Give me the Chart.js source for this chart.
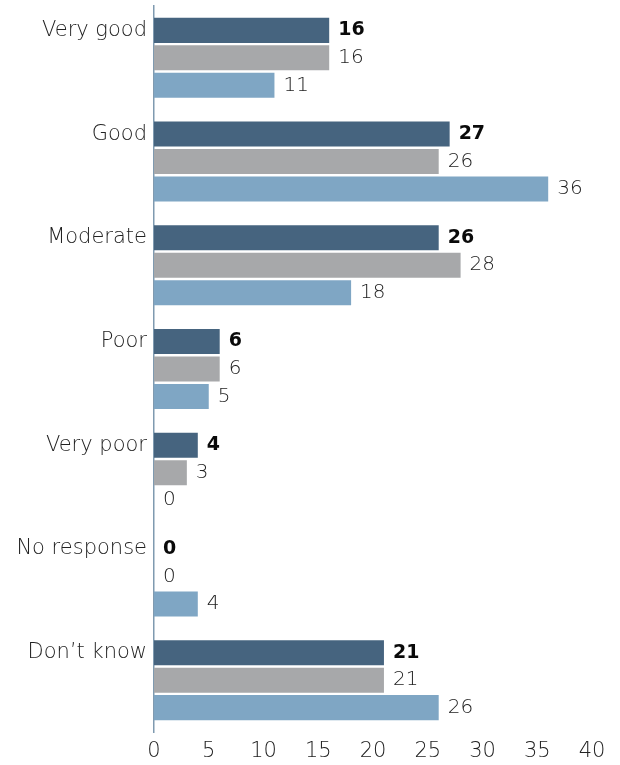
<!DOCTYPE html>
<html>
<head>
<meta charset="utf-8">
<script src="https://cdn.jsdelivr.net/npm/chart.js@4"></script>
<style>
html,body{margin:0;padding:0;background:#fff;}
#wrap{width:620px;height:765px;position:relative;}
</style>
</head>
<body>
<div id="wrap"><canvas id="c" width="620" height="765"></canvas></div>
<script>
const categories = ["Very good","Good","Moderate","Poor","Very poor","No response","Don\u2019t know"];
const series1 = [16,27,26,6,4,0,21];
const series2 = [16,26,28,6,3,0,21];
const series3 = [11,36,18,5,0,4,26];
const xTicks = [0,5,10,15,20,25,30,35,40];

const FONT = "'DejaVu Sans'";
const W = "200";

const valueLabels = {
  id: "valueLabels",
  afterDatasetsDraw(chart) {
    const ctx = chart.ctx;
    ctx.save();
    chart.data.datasets.forEach((ds, di) => {
      const meta = chart.getDatasetMeta(di);
      meta.data.forEach((bar, i) => {
        ctx.font = (di === 0 ? "bold 19px " : W + " 20px ") + FONT;
        ctx.fillStyle = di === 0 ? "#0a0a0a" : "#222";
        ctx.textAlign = "left";
        ctx.textBaseline = "middle";
        ctx.fillText(String(ds.data[i]), bar.x + 9, bar.y);
      });
    });
    ctx.restore();
  }
};

new Chart(document.getElementById("c"), {
  type: "bar",
  data: {
    labels: categories,
    datasets: [
      {data: series1, backgroundColor: "#46647f", categoryPercentage: 0.795, barPercentage: 0.91},
      {data: series2, backgroundColor: "#a7a8aa", categoryPercentage: 0.795, barPercentage: 0.91},
      {data: series3, backgroundColor: "#7fa6c4", categoryPercentage: 0.795, barPercentage: 0.91}
    ]
  },
  options: {
    indexAxis: "y",
    responsive: false,
    animation: false,
    layout: {padding: {top: 6, right: 28, left: 0, bottom: 0}},
    plugins: {legend: {display: false}, tooltip: {enabled: false}},
    scales: {
      x: {
        min: 0, max: 40,
        afterBuildTicks(scale) { scale.ticks = xTicks.map(v => ({value: v})); },
        grid: {display: false, drawTicks: false},
        border: {display: false},
        ticks: {color: "#222", font: {family: FONT, size: 21, weight: W}, padding: 7, maxRotation: 0, autoSkip: false},
        afterFit(scale) { scale.height = 33; }
      },
      y: {
        grid: {display: false, drawTicks: false},
        border: {display: true, color: "#7f9ab0", width: 1.5},
        ticks: {color: "#222", font: {family: FONT, size: 21, weight: W}, padding: 7, labelOffset: -27.5},
        afterFit(scale) { scale.width = 154; scale.paddingTop = 0; scale.paddingBottom = 0; }
      }
    }
  },
  plugins: [valueLabels]
});
</script>
</body>
</html>
